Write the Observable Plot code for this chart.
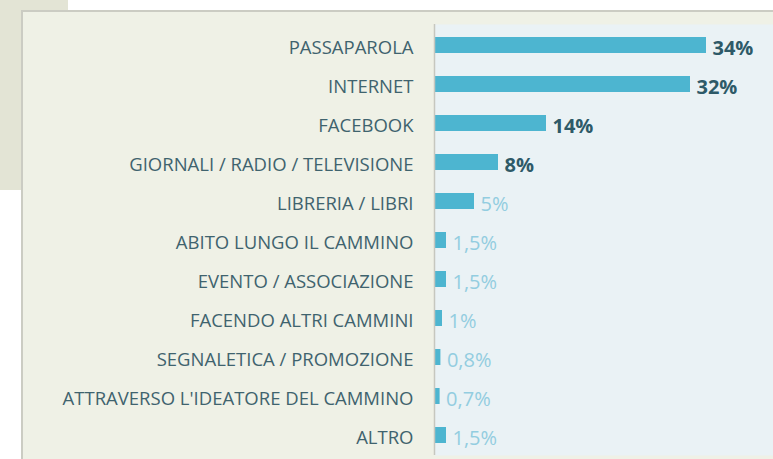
<!DOCTYPE html>
<html>
<head>
<meta charset="utf-8">
<script src="https://cdn.jsdelivr.net/npm/d3@7"></script>
<script src="https://cdn.jsdelivr.net/npm/@observablehq/plot@0.6"></script>
<style>
  html, body { margin: 0; padding: 0; background: #ffffff; }
  #wrap { position: relative; width: 773px; height: 459px; overflow: hidden; }
  #box { position: absolute; left: 0; top: 0; width: 68px; height: 190px; background: #e3e4d5; }
  #panel { position: absolute; left: 21px; top: 10px; width: 760px; height: 460px; background: #eff1e6;
           border-left: 2px solid #cbccc3; border-top: 2px solid #cbccc3; box-sizing: border-box; }
  #chart { position: absolute; left: 0; top: 0; }
</style>
</head>
<body>
<div id="wrap">
  <div id="box"></div>
  <div id="panel"></div>
  <div id="chart"></div>
</div>
<script>
const categories = [
  "PASSAPAROLA",
  "INTERNET",
  "FACEBOOK",
  "GIORNALI / RADIO / TELEVISIONE",
  "LIBRERIA / LIBRI",
  "ABITO LUNGO IL CAMMINO",
  "EVENTO / ASSOCIAZIONE",
  "FACENDO ALTRI CAMMINI",
  "SEGNALETICA / PROMOZIONE",
  "ATTRAVERSO L'IDEATORE DEL CAMMINO",
  "ALTRO"
];
const values = [34, 32, 14, 8, 5, 1.5, 1.5, 1, 0.8, 0.7, 1.5];
const valueLabels = ["34%", "32%", "14%", "8%", "5%", "1,5%", "1,5%", "1%", "0,8%", "0,7%", "1,5%"];
const highlighted = [true, true, true, true, false, false, false, false, false, false, false];

const data = categories.map((c, i) => ({
  category: c, value: values[i], label: valueLabels[i], hi: highlighted[i]
}));

const chart = Plot.plot({
  width: 773,
  height: 459,
  marginLeft: 434,
  marginRight: 0,
  marginTop: 24,
  marginBottom: 4,
  style: { background: "transparent", fontFamily: "'Open Sans', sans-serif", overflow: "visible" },
  x: { domain: [0, 42.375], axis: null },
  y: { domain: categories, paddingInner: 0.6, paddingOuter: 0.3, label: null },
  marks: [
    Plot.frame({ fill: "#eaf2f5", stroke: null }),
    Plot.barX(data, { y: "category", x: "value", fill: "#4db5d0" }),
    Plot.ruleX([0], { stroke: "#c6c7bf", strokeWidth: 1.5 }),
    Plot.axisY({ tickSize: 0, tickPadding: 21, fontSize: 18.5, fill: "#3f636e", dy: 3, label: null }),
    Plot.text(data, {
      filter: d => d.hi,
      y: "category", x: "value", text: "label", textAnchor: "start", dx: 6, dy: 3,
      fontSize: 20, fontWeight: "bold", fill: "#2e5a68"
    }),
    Plot.text(data, {
      filter: d => !d.hi,
      y: "category", x: "value", text: "label", textAnchor: "start", dx: 6, dy: 3,
      fontSize: 20, fontWeight: "normal", fill: "#93cde0"
    })
  ]
});
document.getElementById("chart").appendChild(chart);
</script>
</body>
</html>
